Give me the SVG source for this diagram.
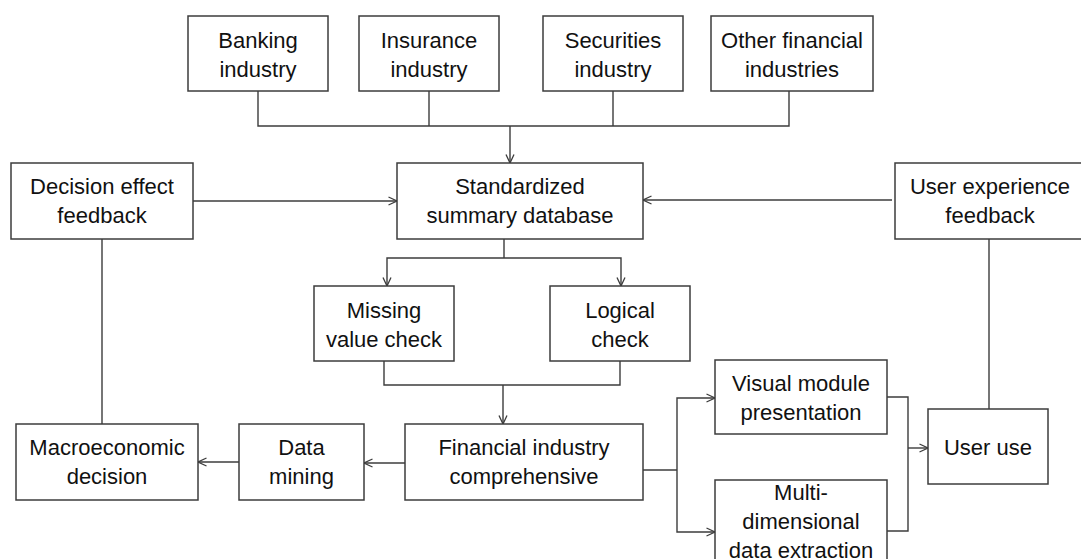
<svg xmlns="http://www.w3.org/2000/svg" width="1081" height="559" viewBox="0 0 1081 559">
  <style>
    .box { fill: #ffffff; stroke: #3c3c3c; stroke-width: 1.5; }
    .lbl { font-family: "Liberation Sans", Arial, sans-serif; font-size: 22px; fill: #111111; text-anchor: middle; }
    .con { fill: none; stroke: #3c3c3c; stroke-width: 1.4; }
    .arr { fill: none; stroke: #3c3c3c; stroke-width: 1.4; marker-end: url(#ah); }
  </style>
  <defs>
    <marker id="ah" viewBox="0 0 10 10" refX="9.5" refY="5" markerWidth="10" markerHeight="10" markerUnits="userSpaceOnUse" orient="auto">
      <path d="M1,1 L9.5,5 L1,9" fill="none" stroke="#3c3c3c" stroke-width="1.3"/>
    </marker>
  </defs>
  <rect width="1081" height="559" fill="#ffffff"/>

  <g id="connectors">
    <polyline class="con" points="258,91 258,126 789,126 789,91"/>
    <line class="con" x1="429" y1="91" x2="429" y2="126"/>
    <line class="con" x1="613" y1="91" x2="613" y2="126"/>
    <line class="arr" x1="510" y1="126" x2="510" y2="163"/>
    <line class="arr" x1="193" y1="201" x2="397" y2="201"/>
    <line class="arr" x1="892" y1="200" x2="643" y2="200"/>
    <line class="con" x1="504" y1="239" x2="504" y2="258"/>
    <polyline class="arr" points="504,258 387,258 387,286"/>
    <polyline class="arr" points="504,258 621,258 621,286"/>
    <polyline class="con" points="384,361 384,385 620,385 620,361"/>
    <line class="arr" x1="503" y1="385" x2="503" y2="424"/>
    <line class="arr" x1="405" y1="463" x2="364" y2="463"/>
    <line class="arr" x1="239" y1="462" x2="198" y2="462"/>
    <line class="con" x1="102" y1="239" x2="102" y2="424"/>
    <line class="con" x1="643" y1="470" x2="677" y2="470"/>
    <polyline class="arr" points="677,470 677,398 715,398"/>
    <polyline class="arr" points="677,470 677,532 715,532"/>
    <polyline class="con" points="887,397 908,397 908,531 887,531"/>
    <line class="arr" x1="908" y1="448" x2="928" y2="448"/>
    <line class="con" x1="989" y1="239" x2="989" y2="409"/>
  </g>

  <g id="banking">
    <rect class="box" x="188" y="16" width="140" height="75"/>
    <text class="lbl" x="258" y="48">Banking</text>
    <text class="lbl" x="258" y="77">industry</text>
  </g>
  <g id="insurance">
    <rect class="box" x="359" y="16" width="140" height="75"/>
    <text class="lbl" x="429" y="48">Insurance</text>
    <text class="lbl" x="429" y="77">industry</text>
  </g>
  <g id="securities">
    <rect class="box" x="543" y="16" width="140" height="75"/>
    <text class="lbl" x="613" y="48">Securities</text>
    <text class="lbl" x="613" y="77">industry</text>
  </g>
  <g id="other">
    <rect class="box" x="711" y="16" width="162" height="75"/>
    <text class="lbl" x="792" y="48">Other financial</text>
    <text class="lbl" x="792" y="77">industries</text>
  </g>
  <g id="decision-feedback">
    <rect class="box" x="11" y="163" width="182" height="76"/>
    <text class="lbl" x="102" y="194">Decision effect</text>
    <text class="lbl" x="102" y="223">feedback</text>
  </g>
  <g id="standardized">
    <rect class="box" x="397" y="163" width="246" height="76"/>
    <text class="lbl" x="520" y="194">Standardized</text>
    <text class="lbl" x="520" y="223">summary database</text>
  </g>
  <g id="user-feedback">
    <rect class="box" x="895" y="163" width="190" height="76"/>
    <text class="lbl" x="990" y="194">User experience</text>
    <text class="lbl" x="990" y="223">feedback</text>
  </g>
  <g id="missing">
    <rect class="box" x="314" y="286" width="140" height="75"/>
    <text class="lbl" x="384" y="318">Missing</text>
    <text class="lbl" x="384" y="347">value check</text>
  </g>
  <g id="logical">
    <rect class="box" x="550" y="286" width="140" height="75"/>
    <text class="lbl" x="620" y="318">Logical</text>
    <text class="lbl" x="620" y="347">check</text>
  </g>
  <g id="macro">
    <rect class="box" x="16" y="424" width="182" height="76"/>
    <text class="lbl" x="107" y="455">Macroeconomic</text>
    <text class="lbl" x="107" y="484">decision</text>
  </g>
  <g id="datamining">
    <rect class="box" x="239" y="424" width="125" height="76"/>
    <text class="lbl" x="301.5" y="455">Data</text>
    <text class="lbl" x="301.5" y="484">mining</text>
  </g>
  <g id="financial">
    <rect class="box" x="405" y="424" width="238" height="76"/>
    <text class="lbl" x="524" y="455">Financial industry</text>
    <text class="lbl" x="524" y="484">comprehensive</text>
  </g>
  <g id="visual">
    <rect class="box" x="715" y="360" width="172" height="74"/>
    <text class="lbl" x="801" y="391">Visual module</text>
    <text class="lbl" x="801" y="420">presentation</text>
  </g>
  <g id="multi">
    <rect class="box" x="715" y="480" width="172" height="95"/>
    <text class="lbl" x="801" y="500">Multi-</text>
    <text class="lbl" x="801" y="529">dimensional</text>
    <text class="lbl" x="801" y="558">data extraction</text>
  </g>
  <g id="useruse">
    <rect class="box" x="928" y="409" width="120" height="75"/>
    <text class="lbl" x="988" y="455">User use</text>
  </g>
</svg>
